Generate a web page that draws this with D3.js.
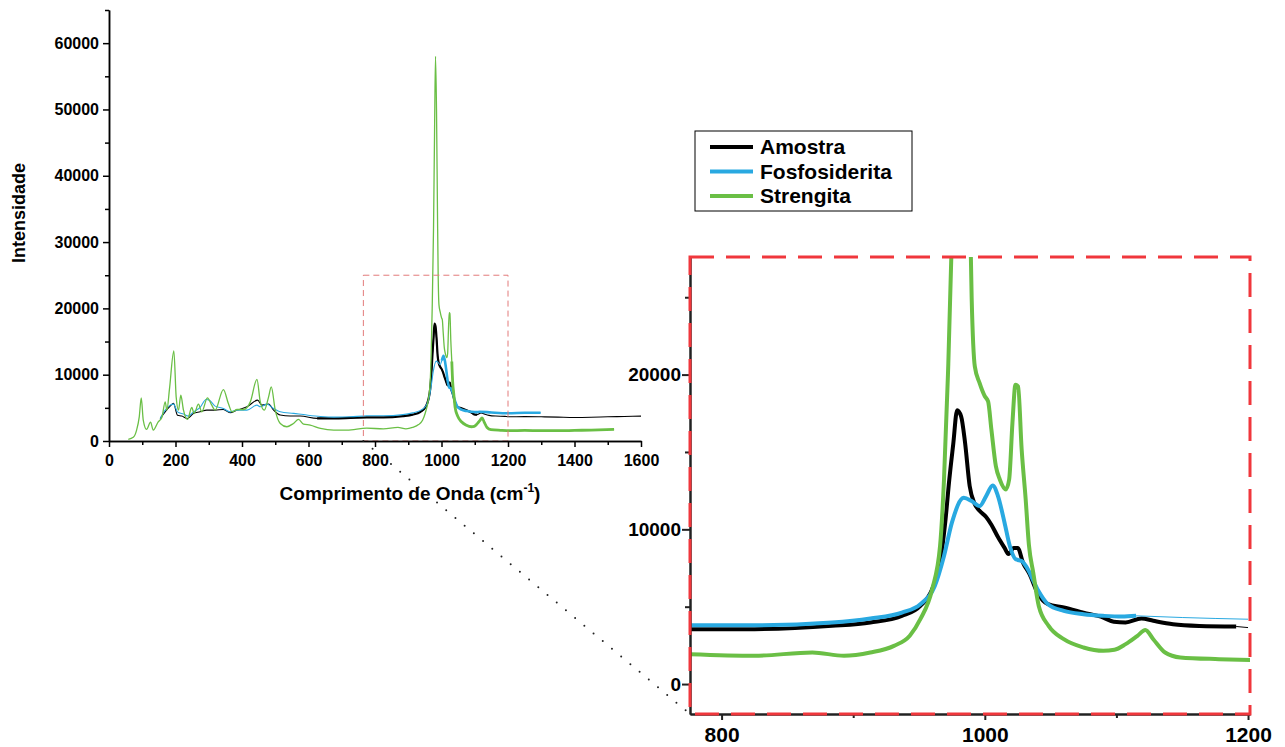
<!DOCTYPE html>
<html>
<head>
<meta charset="utf-8">
<script src="https://cdn.jsdelivr.net/npm/d3@7"></script>
<style>
  body { margin: 0; background: #fff; }
  text { font-family: "Liberation Sans", Arial, sans-serif; font-weight: bold; fill: #000; }
</style>
</head>
<body>
<div class="chart"></div>
<script>
// Series names and colours
var seriesNames = ["Amostra", "Fosfosiderita", "Strengita"];
var seriesColors = ["#000000", "#29a9e1", "#6abf45"];

// Amostra (wavenumber, intensity)
var amostraWn = [154, 169, 184, 194, 206, 219, 236, 254, 274, 294, 319, 344, 364, 385, 415, 447, 460, 480, 495, 515, 545, 575, 626, 676, 726, 775, 825, 884, 913, 937, 951, 960, 966, 970, 973, 976, 979, 982, 985, 988.5, 992, 996, 1001, 1005, 1010, 1015, 1018, 1022, 1025, 1029, 1034, 1040, 1048, 1060, 1075, 1090, 1098, 1107, 1119, 1128, 1143, 1163, 1191, 1200, 1250, 1300, 1350, 1400, 1450, 1500, 1550, 1600];
var amostraInt = [3400, 4400, 5260, 5670, 3900, 3760, 3400, 4160, 4400, 4660, 4660, 4760, 4260, 4660, 5160, 6170, 5410, 5560, 4660, 3910, 3760, 3760, 3410, 3420, 3480, 3550, 3550, 3760, 3980, 4400, 5050, 6130, 7850, 10500, 13200, 15500, 17700, 17300, 15600, 12800, 11700, 11200, 10800, 10300, 9500, 8800, 8400, 8800, 8800, 7850, 7100, 5900, 5160, 4950, 4620, 4300, 4020, 3980, 4240, 4090, 3870, 3760, 3720, 3650, 3680, 3650, 3600, 3550, 3580, 3650, 3700, 3750];

// Fosfosiderita
var fosfoWn = [154, 169, 184, 194, 206, 224, 239, 254, 274, 292, 304, 319, 344, 364, 385, 415, 445, 455, 475, 495, 515, 555, 595, 636, 676, 726, 775, 825, 884, 913, 937, 951, 962, 969, 975, 984, 990, 996, 1001, 1006, 1010, 1015, 1019, 1023.5, 1028, 1032, 1040, 1048, 1060, 1075, 1090, 1104, 1115, 1150, 1200, 1250, 1298];
var fosfoInt = [3400, 4660, 5410, 5560, 4400, 4060, 3760, 4400, 5060, 6260, 6060, 5260, 4910, 4400, 4660, 4660, 5410, 5160, 5560, 4910, 4400, 4160, 3910, 3700, 3600, 3650, 3800, 3800, 3980, 4240, 4620, 5160, 6340, 8280, 10430, 12040, 11830, 11500, 12150, 12840, 12150, 10430, 8920, 8060, 7950, 7525, 6130, 5160, 4730, 4515, 4410, 4360, 4410, 4300, 4190, 4250, 4260];

// Strengita
var strengWn = [58, 73, 83, 91, 97, 103, 113, 125, 133, 148, 159, 169, 174, 182, 195, 202, 209, 216, 224, 236, 249, 256, 269, 279, 296, 309, 319, 344, 359, 370, 385, 405, 425, 445, 455, 467, 480, 488, 500, 515, 535, 555, 570, 585, 605, 636, 676, 716, 775, 825, 869, 893, 913, 931, 943, 951, 960, 966, 969, 972, 976, 979, 982, 985, 988, 990, 992.4, 996, 1000, 1002.5, 1005, 1008.4, 1011.4, 1016, 1018.5, 1021, 1023.3, 1025.3, 1028, 1031, 1033.5, 1036.8, 1041, 1048.5, 1060, 1075, 1090, 1098.5, 1107, 1116, 1122, 1128, 1137, 1148.5, 1178, 1206, 1250, 1300, 1350, 1400, 1450, 1519];
var strengInt = [250, 550, 1650, 3650, 6500, 3150, 1750, 2850, 1650, 2900, 3550, 5900, 4650, 7900, 13600, 6650, 4650, 6900, 4650, 3250, 5050, 4150, 5550, 4400, 6500, 5400, 4650, 7750, 5650, 4400, 4750, 4750, 5900, 9300, 5900, 4650, 6650, 8150, 4650, 2650, 2150, 2650, 3250, 2550, 2400, 1900, 1650, 1650, 1935, 1830, 2040, 1830, 2040, 2470, 3120, 4190, 6130, 8920, 13220, 20000, 32000, 46000, 58000, 50000, 34000, 25000, 20530, 19460, 18600, 18270, 16450, 14080, 13220, 12580, 13220, 16880, 19350, 19240, 15160, 12000, 9000, 7200, 5050, 3760, 2900, 2365, 2150, 2215, 2580, 3120, 3500, 2900, 2040, 1720, 1610, 1550, 1600, 1550, 1550, 1600, 1650, 1750];

// Tick values
var mainXTicks = [0, 200, 400, 600, 800, 1000, 1200, 1400, 1600];
var mainXMinor = [100, 300, 500, 700, 900, 1100, 1300, 1500];
var mainYTicks = [0, 10000, 20000, 30000, 40000, 50000, 60000];
var mainYMinor = [5000, 15000, 25000, 35000, 45000, 55000, 65000];
var insetXTicks = [800, 1000, 1200];
var insetXMinor = [900, 1100];
var insetYTicks = [0, 10000, 20000];
var insetYMinor = [5000, 15000, 25000];

// Zoomed region shown in the inset
var zoomWn = [765, 1200];
var zoomInt = [0, 25000];

var svgWidth = 1285;
var svgHeight = 747;

var svg = d3.select(".chart")
  .append("svg")
  .attr("width", svgWidth)
  .attr("height", svgHeight);

var series = [
  { wn: amostraWn, val: amostraInt, mainThick: [580, 1110], mainW: [1.1, 2.2], insetThin: 1191 },
  { wn: fosfoWn, val: fosfoInt, mainThick: [1000, 1300], mainW: [1.1, 2.6], insetThin: 1115 },
  { wn: strengWn, val: strengInt, mainThick: [1030, 1520], mainW: [1.3, 2.8], insetThin: 9999 }
];
series.forEach(function(s, i) {
  s.name = seriesNames[i];
  s.color = seriesColors[i];
  s.pts = d3.zip(s.wn, s.val);
});

function between(pts, lo, hi) {
  return pts.filter(function(p) { return p[0] >= lo && p[0] <= hi; });
}

// ---------- Main chart ----------
var xMain = d3.scaleLinear().domain([0, 1600]).range([109, 641]);
var yMain = d3.scaleLinear().domain([0, 65000]).range([441, 10]);

var lineMain = d3.line()
  .x(function(d) { return xMain(d[0]); })
  .y(function(d) { return yMain(d[1]); })
  .curve(d3.curveMonotoneX);

var mainGroup = svg.append("g");

series.forEach(function(s) {
  mainGroup.append("path")
    .attr("d", lineMain(s.pts))
    .attr("fill", "none")
    .attr("stroke", s.color)
    .attr("stroke-width", s.mainW[0]);
  mainGroup.append("path")
    .attr("d", lineMain(between(s.pts, s.mainThick[0], s.mainThick[1])))
    .attr("fill", "none")
    .attr("stroke", s.color)
    .attr("stroke-width", s.mainW[1]);
});

// dashed box marking the zoom area
mainGroup.append("rect")
  .attr("x", xMain(zoomWn[0]))
  .attr("y", yMain(zoomInt[1]))
  .attr("width", xMain(zoomWn[1]) - xMain(zoomWn[0]))
  .attr("height", yMain(zoomInt[0]) - yMain(zoomInt[1]))
  .attr("fill", "none")
  .attr("stroke", "#e27a7a")
  .attr("stroke-width", 1)
  .attr("stroke-dasharray", "6,4");

// main axes
var fmt = d3.format("d");
mainGroup.append("g")
  .attr("transform", "translate(0," + yMain(0) + ")")
  .call(d3.axisBottom(xMain).tickValues(mainXMinor).tickSize(4).tickSizeOuter(0).tickFormat(""));
mainGroup.append("g")
  .attr("transform", "translate(0," + yMain(0) + ")")
  .call(d3.axisBottom(xMain).tickValues(mainXTicks).tickSize(6).tickSizeOuter(0).tickPadding(8).tickFormat(fmt))
  .attr("font-size", 16);
mainGroup.append("g")
  .attr("transform", "translate(" + xMain(0) + ",0)")
  .call(d3.axisLeft(yMain).tickValues(mainYMinor).tickSize(4).tickSizeOuter(0).tickFormat(""));
mainGroup.append("g")
  .attr("transform", "translate(" + xMain(0) + ",0)")
  .call(d3.axisLeft(yMain).tickValues(mainYTicks).tickSize(6).tickSizeOuter(0).tickPadding(4).tickFormat(fmt))
  .attr("font-size", 16);

mainGroup.selectAll(".domain, .tick line")
  .attr("stroke", "#000")
  .attr("stroke-width", 1.5);
mainGroup.selectAll(".tick text").attr("font-family", null);

// axis titles
svg.append("text")
  .attr("transform", "translate(25,213) rotate(-90)")
  .attr("text-anchor", "middle")
  .attr("font-size", 18)
  .text("Intensidade");

var xTitle = svg.append("text")
  .attr("x", 410)
  .attr("y", 500)
  .attr("text-anchor", "middle")
  .attr("font-size", 19);
xTitle.append("tspan").text("Comprimento de Onda (cm");
xTitle.append("tspan").attr("font-size", 12).attr("dy", -8).text("-1");
xTitle.append("tspan").attr("dy", 8).text(")");

// ---------- Inset ----------
var xIn = d3.scaleLinear().domain([776, 1201.5]).range([690, 1250]);
var yIn = d3.scaleLinear().domain([-1935, 27600]).range([714, 257]);

// dotted connector from the zoom box to the inset
svg.append("line")
  .attr("x1", xMain(zoomWn[0]))
  .attr("y1", yMain(zoomInt[0]))
  .attr("x2", xIn.range()[0])
  .attr("y2", yIn.range()[0])
  .attr("stroke", "#222")
  .attr("stroke-width", 2)
  .attr("stroke-linecap", "round")
  .attr("stroke-dasharray", "0,12");

svg.append("clipPath")
  .attr("id", "insetClip")
  .append("rect")
  .attr("x", xIn.range()[0])
  .attr("y", yIn.range()[1])
  .attr("width", xIn.range()[1] - xIn.range()[0])
  .attr("height", yIn.range()[0] - yIn.range()[1]);

var lineIn = d3.line()
  .x(function(d) { return xIn(d[0]); })
  .y(function(d) { return yIn(d[1]); })
  .curve(d3.curveMonotoneX);

var inset = svg.append("g");
var insetLines = inset.append("g").attr("clip-path", "url(#insetClip)");

series.forEach(function(s) {
  var inPts = between(s.pts, 740, 1240);
  insetLines.append("path")
    .attr("d", lineIn(between(inPts, 740, s.insetThin + 2)))
    .attr("fill", "none")
    .attr("stroke", s.color)
    .attr("stroke-width", 4)
    .attr("stroke-linejoin", "round");
  insetLines.append("path")
    .attr("d", lineIn(between(inPts, s.insetThin - 10, 1240)))
    .attr("fill", "none")
    .attr("stroke", s.color)
    .attr("stroke-width", 1);
});

// inset axes
inset.append("g")
  .attr("transform", "translate(0," + yIn.range()[0] + ")")
  .call(d3.axisBottom(xIn).tickValues(insetXMinor).tickSize(4).tickSizeOuter(0).tickFormat(""));
inset.append("g")
  .attr("transform", "translate(0," + yIn.range()[0] + ")")
  .call(d3.axisBottom(xIn).tickValues(insetXTicks).tickSize(6).tickSizeOuter(0).tickPadding(7).tickFormat(fmt))
  .attr("font-size", 21);
inset.append("g")
  .attr("transform", "translate(" + xIn.range()[0] + ",0)")
  .call(d3.axisLeft(yIn).tickValues(insetYMinor).tickSize(5).tickSizeOuter(0).tickFormat(""));
inset.append("g")
  .attr("transform", "translate(" + xIn.range()[0] + ",0)")
  .call(d3.axisLeft(yIn).tickValues(insetYTicks).tickSize(8).tickSizeOuter(0).tickPadding(1).tickFormat(fmt))
  .attr("font-size", 19);

inset.selectAll(".domain, .tick line")
  .attr("stroke", "#222")
  .attr("stroke-width", 2);
inset.selectAll(".tick text").attr("font-family", null);

// red dashed frame around the inset
inset.append("rect")
  .attr("x", xIn.range()[0])
  .attr("y", yIn.range()[1])
  .attr("width", xIn.range()[1] - xIn.range()[0])
  .attr("height", yIn.range()[0] - yIn.range()[1])
  .attr("fill", "none")
  .attr("stroke", "#f0373c")
  .attr("stroke-width", 3)
  .attr("stroke-dasharray", "24,12");

// ---------- Legend ----------
var legend = svg.append("g").attr("transform", "translate(695,131)");
legend.append("rect")
  .attr("width", 217)
  .attr("height", 80)
  .attr("fill", "#fff")
  .attr("stroke", "#000")
  .attr("stroke-width", 1);

var legendItems = legend.selectAll(".item")
  .data(series)
  .enter()
  .append("g")
  .attr("transform", function(d, i) { return "translate(0," + (16 + i * 24.5) + ")"; });

legendItems.append("line")
  .attr("x1", 15)
  .attr("x2", 58)
  .attr("stroke", function(d) { return d.color; })
  .attr("stroke-width", 4);

legendItems.append("text")
  .attr("x", 65)
  .attr("dy", "0.35em")
  .attr("font-size", 21)
  .text(function(d) { return d.name; });
</script>
</body>
</html>
